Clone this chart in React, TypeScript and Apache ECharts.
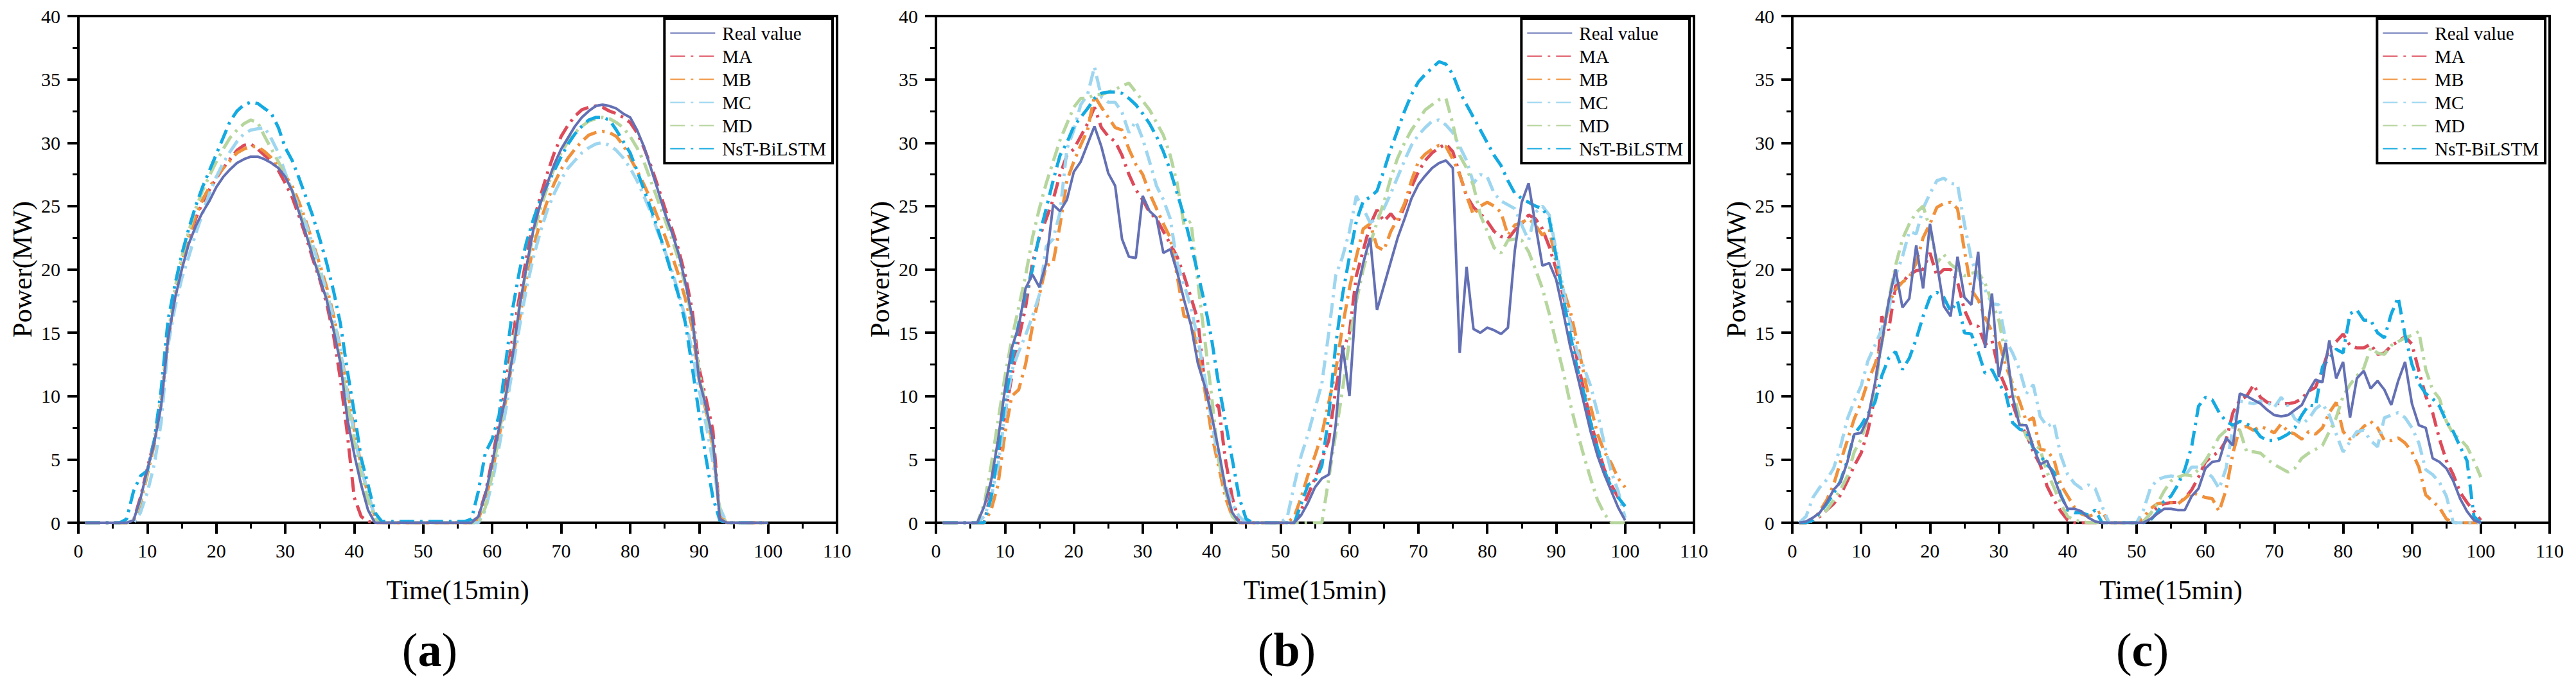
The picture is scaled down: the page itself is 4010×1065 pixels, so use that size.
import React, { useEffect, useRef } from "react";
import * as echarts from "echarts";

// series names and colours, same in all three panels
const names = ["Real value", "MA", "MB", "MC", "MD", "NsT-BiLSTM"];
const colors = ["#6470B4", "#DC4B5A", "#F0913C", "#9ED6F0", "#B6D69E", "#14AAE1"];

// values at x = 1..100 (Time, 15 min steps)
// panel (a)
const aReal = [
  0, 0, 0, 0, 0, 0, 0, 0.2, 1.9, 4.2,
  6.3, 9.2, 14.5, 17.7, 20.0, 22.0, 23.4, 24.5, 25.4, 26.5,
  27.3, 27.9, 28.4, 28.7, 28.9, 28.9, 28.7, 28.4, 28.0, 27.3,
  26.2, 24.5, 22.8, 21.0, 19.3, 17.6, 15.2, 12.6, 8.2, 5.4,
  3.0, 1.0, 0, 0, 0, 0, 0, 0, 0, 0,
  0, 0, 0, 0, 0, 0, 0, 0.5, 2.2, 4.7,
  7.5, 10.1, 13.3, 17.2, 20.3, 23.2, 25.2, 26.8, 28.3, 29.5,
  30.4, 31.3, 32.0, 32.5, 32.9, 33.0, 32.9, 32.7, 32.3, 32.0,
  31.0, 29.7, 28.0, 26.3, 24.5, 23.0, 21.3, 19.0, 16.2, 11.3,
  9.2, 6.5, 0.3, 0, 0, 0, 0, 0, 0, 0,
];
const aMA = [
  0, 0, 0, 0, 0, 0, 0, 0.2, 2.0, 4.3,
  6.5, 9.5, 14.6, 17.8, 20.3, 22.5, 24.0, 25.3, 26.3, 27.2,
  28.0, 28.7, 29.4, 29.8, 29.9, 29.5, 29.0, 28.6, 27.8, 26.8,
  25.7, 24.2, 22.6, 20.8, 19.2, 17.3, 14.8, 11.3, 7.0, 2.0,
  0.5, 0.1, 0, 0, 0, 0, 0, 0, 0, 0,
  0, 0, 0, 0, 0, 0, 0, 0.5, 2.3, 5.0,
  8.0, 11.0, 14.8, 18.0, 21.0, 23.8, 25.8, 27.6, 29.2, 30.5,
  31.4, 32.1, 32.6, 32.8, 32.9, 32.8, 32.5, 32.3, 32.0, 31.6,
  30.8, 29.6, 28.2, 26.6, 24.9, 23.3, 21.6, 19.5, 16.8, 12.2,
  9.8, 7.3, 0.5, 0, 0, 0, 0, 0, 0, 0,
];
const aMB = [
  0, 0, 0, 0, 0, 0, 0, 0.1, 1.5, 3.8,
  6.2, 9.5, 14.3, 17.8, 20.5, 22.6, 24.2, 25.5, 26.5, 27.3,
  28.0, 28.6, 29.2, 29.5, 29.7, 29.7, 29.3, 28.8, 28.1, 27.4,
  26.6, 25.3, 23.8, 22.1, 20.4, 18.6, 16.4, 13.7, 10.5, 7.3,
  4.5, 2.2, 0.5, 0, 0, 0, 0, 0, 0, 0,
  0, 0, 0, 0, 0, 0, 0, 0.3, 1.8, 4.0,
  6.8, 9.8, 13.0, 16.2, 19.3, 21.8, 23.8, 25.4, 26.8, 27.9,
  28.8, 29.5, 30.1, 30.6, 30.8, 30.9, 30.8, 30.5, 29.8, 28.8,
  27.8, 26.7, 25.5, 24.1, 22.7, 21.2, 19.6, 17.7, 15.4, 11.3,
  8.8, 6.0, 0.5, 0, 0, 0, 0, 0, 0, 0,
];
const aMC = [
  0, 0, 0, 0, 0, 0, 0, 0, 0.8, 2.4,
  4.6, 7.9, 14.0, 17.0, 19.3, 21.0, 22.8, 24.4, 26.0, 27.3,
  28.4, 29.3, 30.1, 30.7, 31.0, 31.1, 31.2, 30.3, 29.2, 27.6,
  26.2, 24.9, 23.6, 21.9, 20.1, 18.2, 16.2, 13.6, 10.2, 6.9,
  4.3, 2.4, 0.4, 0, 0, 0, 0, 0, 0, 0,
  0, 0, 0, 0, 0, 0, 0, 0, 1.0, 3.2,
  6.0, 9.0, 12.3, 15.6, 18.6, 21.0, 23.0, 24.7, 26.0, 27.1,
  28.0, 28.6, 29.2, 29.6, 29.9, 30.0, 29.8, 29.4, 28.8, 28.0,
  27.0, 25.8, 24.5, 23.0, 21.5, 20.0, 18.2, 16.2, 13.5, 10.5,
  7.8, 4.8, 1.2, 0, 0, 0, 0, 0, 0, 0,
];
const aMD = [
  0, 0, 0, 0, 0, 0, 0, 0.2, 1.7, 4.0,
  6.5, 10.0, 14.8, 18.5, 21.0, 23.0, 24.8, 26.2, 27.4, 28.5,
  29.5, 30.4, 31.0, 31.5, 31.8, 31.6, 30.5, 29.5, 28.5, 27.4,
  26.2, 24.7, 23.0, 21.2, 19.5, 17.7, 15.4, 12.8, 9.5, 6.3,
  3.8, 1.8, 0.3, 0, 0, 0, 0, 0, 0, 0,
  0, 0, 0, 0, 0, 0, 0, 0, 1.2, 3.8,
  7.0, 10.2, 13.8, 17.2, 20.2, 22.8, 24.8, 26.5, 28.0, 29.2,
  30.1, 30.8, 31.3, 31.7, 31.9, 32.0, 31.9, 31.6, 31.2, 30.5,
  29.6, 28.5, 27.0, 25.5, 24.0, 22.5, 20.8, 18.7, 16.0, 12.0,
  9.0, 6.0, 0.8, 0, 0, 0, 0, 0, 0, 0,
];
const aNsT = [
  0, 0, 0, 0, 0, 0, 0.3, 2.5, 3.7, 4.1,
  6.5, 10.5, 16.0, 18.8, 21.2, 23.2, 25.0, 26.5, 27.8, 29.1,
  30.4, 31.7, 32.5, 33.0, 33.2, 33.1, 32.7, 32.3, 31.2, 29.6,
  28.6, 27.2, 25.7, 24.2, 22.4, 20.5, 18.3, 15.7, 12.0, 8.7,
  5.1, 3.0, 0.8, 0.1, 0.1, 0.1, 0.1, 0.1, 0.1, 0.1,
  0.1, 0.1, 0.1, 0.1, 0.1, 0.1, 0.3, 2.5, 5.5, 6.6,
  8.5, 12.8, 17.0, 20.0, 22.2, 24.0, 25.5, 26.7, 27.8, 28.9,
  29.9, 30.7, 31.3, 31.8, 32.0, 32.0, 31.8, 31.0, 30.1, 29.2,
  27.8, 26.3, 24.8, 23.2, 21.5, 19.7, 18.0, 15.8, 12.3, 8.6,
  5.1, 2.0, 0.2, 0, 0, 0, 0, 0, 0, 0,
];

// panel (b)
const bReal = [
  0, 0, 0, 0, 0, 0, 1.3, 3.3, 6.5, 10.5,
  13.8, 15.5, 18.5, 19.6, 18.6, 20.5, 25.1, 24.6, 25.5, 27.7,
  28.5, 29.9, 31.3, 29.7, 27.6, 26.6, 22.4, 21.0, 20.9, 25.8,
  24.6, 24.1, 21.3, 21.6, 19.8, 17.6, 15.6, 12.6, 10.8, 8.5,
  5.8, 2.8, 0.8, 0, 0, 0, 0, 0, 0, 0,
  0, 0, 0.6, 1.6, 2.8, 3.5, 3.8, 7.7, 14.0, 10.0,
  18.0, 20.5, 22.5, 16.8, 18.7, 20.6, 22.5, 24.0, 25.6, 26.7,
  27.4, 28.0, 28.4, 28.6, 28.0, 13.4, 20.2, 15.3, 15.0, 15.4,
  15.2, 14.9, 15.4, 21.5, 25.3, 26.8, 23.5, 20.3, 20.5, 19.2,
  16.7, 14.0, 11.8, 9.5, 7.2, 5.3, 3.8, 2.5, 1.2, 0.2,
];
const bMA = [
  0, 0, 0, 0, 0, 0, 0, 2.5, 5.0, 8.5,
  11.5, 14.5, 17.0, 20.5, 22.5, 24.0, 25.5, 27.5, 29.0, 29.5,
  30.5, 31.5, 32.8, 31.2, 30.5, 30.1, 29.0, 27.5, 26.3, 25.5,
  24.5, 24.0, 23.0, 22.0, 21.0, 19.5, 17.8, 16.0, 11.0, 9.0,
  9.3, 5.0, 2.0, 0, 0, 0, 0, 0, 0, 0,
  0, 0, 1.0, 2.2, 3.5, 5.0, 6.5, 10.5, 13.5, 15.0,
  19.5, 21.5, 23.5, 24.7, 23.8, 24.4, 23.7, 25.0, 26.5, 27.7,
  28.6, 29.2, 29.6, 29.9, 29.3, 27.5, 25.8, 24.9, 24.4, 23.8,
  23.0, 22.6, 22.4, 23.1, 23.6, 24.3, 24.0, 23.2, 21.8, 20.0,
  18.0, 16.0, 13.0, 10.5, 8.0, 6.0, 4.2, 3.0, 2.0, 1.2,
];
const bMB = [
  0, 0, 0, 0, 0, 0, 0, 1.0, 3.0, 7.0,
  10.0, 10.5, 12.5, 15.5, 18.0, 20.3, 20.5, 23.5, 27.0, 28.5,
  29.8, 31.0, 33.7, 32.8, 32.0, 31.2, 31.0, 29.5, 28.3, 27.5,
  26.0, 24.8, 23.6, 22.5, 19.5, 16.3, 16.2, 13.5, 10.5, 7.0,
  4.5, 2.0, 0.5, 0, 0, 0, 0, 0, 0, 0,
  0, 0.5, 2.0, 3.8, 5.3, 7.0, 9.5, 12.0, 15.5, 18.5,
  21.0, 23.2, 23.6, 21.8, 21.5, 23.0, 24.0, 25.2, 27.0, 28.5,
  29.1, 29.5, 29.8, 29.7, 28.7, 27.5, 25.8, 24.3, 25.0, 25.3,
  25.0, 24.5, 22.7, 23.5, 23.7, 24.0, 23.5, 22.7, 23.2, 20.5,
  18.5, 16.8, 14.4, 11.8, 9.2, 7.0, 5.6, 4.7, 3.5, 2.8,
];
const bMC = [
  0, 0, 0, 0, 0, 0, 0.5, 2.0, 4.5, 8.5,
  12.0, 13.5, 14.8, 16.3, 18.0, 21.8, 22.4, 24.5, 29.5, 31.0,
  33.0, 33.8, 36.0, 33.6, 33.2, 33.2, 32.4, 30.8, 31.7, 30.3,
  28.5, 26.6, 25.5, 24.0, 20.5, 18.8, 17.0, 14.5, 11.5, 8.0,
  5.0, 3.0, 1.5, 0.5, 0, 0, 0, 0, 0, 0,
  0.5, 3.0, 5.3, 7.0, 9.0, 11.0, 15.0, 19.5, 21.0, 23.0,
  25.8, 24.8, 23.7, 24.0, 24.8, 26.0, 27.3, 28.6, 29.8, 30.6,
  31.2, 31.7, 31.8, 31.4, 30.8, 29.7, 28.6, 26.8, 27.5, 27.3,
  26.0, 25.4, 25.1, 24.8, 23.5, 22.3, 24.5, 25.0, 24.3, 21.5,
  18.5, 15.8, 13.6, 12.3, 10.8, 8.7, 6.2, 4.0, 2.5, 0.4,
];
const bMD = [
  0, 0, 0, 0, 0, 0, 1.5, 4.5, 8.0, 11.5,
  14.5, 17.0, 19.5, 22.5, 24.8, 26.8, 28.5, 30.2, 31.5, 32.8,
  33.5, 33.5, 33.8, 33.8, 34.0, 34.2, 34.5, 34.7, 34.0, 33.3,
  32.6, 31.6, 30.6, 29.0, 26.8, 23.5, 23.8, 19.0, 14.5, 10.0,
  5.0, 2.5, 0.5, 0, 0, 0, 0, 0, 0, 0,
  0, 0, 0, 0, 0, 0, 3.5, 7.0, 10.5, 14.4,
  17.5, 20.0, 22.0, 23.7, 25.3, 27.2, 28.8, 30.0, 31.0, 31.8,
  32.6, 33.0, 33.4, 33.5, 31.5, 29.0, 28.0, 26.6, 24.3, 23.0,
  21.7, 21.3, 22.3, 22.4, 22.3, 21.4, 20.0, 18.5, 16.5, 14.2,
  12.0, 9.5, 7.3, 5.3, 3.5, 1.8, 0.7, 0, 0, 0,
];
const bNsT = [
  0, 0, 0, 0, 0, 0, 0, 2.0, 5.5, 9.5,
  12.7, 15.7, 18.0, 20.0, 22.7, 24.8, 27.0, 29.0, 30.0, 31.3,
  32.0, 32.7, 33.5, 33.9, 34.0, 34.0, 33.9, 33.5, 33.0, 32.3,
  31.5, 30.5, 29.3, 27.8, 26.0, 24.2, 22.0, 19.7, 17.3, 14.5,
  11.0, 8.0, 5.0, 2.0, 0.3, 0, 0, 0, 0, 0,
  0, 0, 1.5, 3.0, 3.3, 4.5, 8.5, 14.0, 18.0, 21.0,
  23.8, 25.4, 25.7, 26.2, 27.8, 29.5, 31.0, 32.5, 33.8, 34.8,
  35.4, 35.9, 36.4, 36.2, 35.4, 34.0, 33.0, 32.0, 31.0, 30.0,
  29.0, 28.2, 27.0, 26.0, 25.6, 25.3, 25.0, 24.8, 24.0, 21.0,
  17.8, 15.0, 12.3, 10.3, 7.9, 5.9, 4.1, 2.8, 2.0, 1.3,
];

// panel (c)
const cReal = [
  0, 0.1, 0.4, 0.8, 1.6, 2.6, 3.2, 4.8, 7.0, 7.1,
  8.3, 11.0, 14.2, 17.5, 20.0, 17.0, 17.7, 21.9, 18.5, 23.6,
  20.5, 17.1, 16.3, 21.0, 17.8, 17.2, 21.4, 13.8, 18.1, 11.5,
  14.2, 10.0, 7.7, 7.7, 6.0, 4.6, 4.9, 3.6, 2.1, 1.1,
  1.1, 0.9, 0.4, 0.1, 0, 0, 0, 0, 0, 0,
  0, 0.3, 0.7, 1.1, 1.1, 1.0, 1.0, 2.1, 2.7, 4.3,
  4.8, 4.9, 6.7, 6.1, 10.2, 10.0, 9.7, 9.4, 8.9, 8.5,
  8.4, 8.5, 8.9, 9.3, 10.4, 11.3, 11.1, 14.4, 11.4, 12.7,
  8.3, 11.4, 12.0, 10.6, 11.2, 10.5, 9.3, 11.2, 12.7, 9.4,
  7.7, 7.5, 5.1, 4.8, 4.3, 3.3, 1.9, 0.9, 0.2, 0,
];
const cMA = [
  0, 0, 0.2, 0.5, 1.0, 1.5, 2.2, 3.3, 4.5, 5.5,
  7.3, 10.0, 16.3, 15.2, 18.7, 19.0, 19.6, 19.9, 20.0, 21.3,
  19.5, 20.0, 20.0, 19.0, 16.8, 15.6, 15.5, 14.1, 14.4, 12.0,
  10.7, 9.4, 7.8, 7.0, 5.6, 4.6, 2.9, 1.8, 0.9, 0.2,
  0, 0, 0, 0, 0, 0, 0, 0, 0, 0,
  0.1, 0.7, 1.2, 1.5, 1.6, 1.6, 1.9, 2.6, 3.6, 4.8,
  5.3, 5.6, 6.5, 8.7, 9.7, 10.0, 10.9, 9.9, 9.5, 9.4,
  9.4, 9.4, 9.5, 9.8, 10.4, 10.7, 12.1, 13.8, 14.3, 14.9,
  14.0, 13.8, 13.8, 14.1, 13.3, 13.4, 14.0, 14.3, 14.7, 14.1,
  12.0, 10.0, 8.7, 6.6, 4.9, 3.8, 2.4, 1.6, 0.9, 0.2,
];
const cMB = [
  0, 0, 0.2, 0.9, 1.8, 3.0, 4.8, 6.5, 8.2, 9.5,
  11.2, 12.5, 14.2, 17.3, 18.4, 19.0, 19.4, 20.5, 22.5, 23.6,
  24.9, 25.2, 25.3, 24.8, 21.5, 18.4, 17.6, 16.2, 15.1, 14.3,
  12.4, 11.0, 9.6, 8.0, 8.3, 5.8, 5.7, 5.0, 3.0, 2.1,
  1.2, 0.7, 0.5, 0.7, 0.9, 0, 0, 0, 0, 0,
  0.4, 1.1, 1.5, 1.6, 1.6, 1.5, 1.9, 2.4, 2.2, 2.0,
  1.9, 0.9, 2.6, 5.5, 7.5, 7.6, 7.3, 7.6, 7.4, 7.1,
  7.8, 7.2, 7.0, 6.6, 7.2, 7.0, 7.5, 8.7, 9.5, 7.2,
  6.6, 7.0, 7.6, 8.0, 7.5, 6.5, 6.5, 6.7, 6.3, 5.6,
  4.4, 2.2, 1.7, 1.2, 0.3, 0, 0, 0, 0, 0,
];
const cMC = [
  0, 0.5, 2.0, 2.8, 3.4, 4.3, 6.0, 8.2, 9.6, 10.8,
  12.8, 14.0, 15.3, 16.8, 19.5, 21.0, 23.0, 22.8, 24.8, 26.0,
  27.0, 27.2, 26.8, 26.7, 23.6, 20.8, 19.4, 18.4, 17.3, 17.2,
  14.4, 13.4, 12.1, 10.2, 10.9, 8.4, 7.6, 7.9, 5.3, 3.8,
  3.1, 2.7, 3.0, 2.7, 1.3, 0, 0, 0, 0, 0,
  1.0, 2.7, 3.4, 3.6, 3.7, 3.6, 3.7, 4.4, 4.4, 4.1,
  3.6, 2.7, 4.3, 7.5, 9.6, 9.5, 9.4, 9.6, 9.5, 9.1,
  9.9, 9.2, 8.2, 7.8, 8.2, 9.0, 9.4, 8.5, 7.0, 5.6,
  6.4, 7.2, 7.3, 6.5, 6.0, 8.3, 8.5, 8.7, 8.3, 7.5,
  6.3, 4.2, 3.8, 3.2, 2.1, 0, 0, 0, 0, 0,
];
const cMD = [
  0, 0, 0.2, 0.6, 1.0, 1.8, 2.6, 3.7, 5.6, 6.6,
  8.3, 10.5, 14.2, 17.6, 20.3, 22.4, 23.6, 24.5, 25.0, 23.2,
  20.5, 21.2, 20.4, 20.0, 19.5, 19.7, 19.8, 18.9, 17.4, 16.0,
  13.2, 10.5, 8.3, 6.8, 6.3, 5.8, 4.0, 2.8, 1.5, 0.5,
  0.2, 0.1, 0, 0, 0, 0, 0, 0, 0, 0,
  0.1, 0.7, 1.5, 2.5, 3.3, 3.6, 3.8, 3.7, 4.2, 4.9,
  5.8, 6.8, 7.3, 7.6, 7.3, 5.6, 5.6, 5.5, 5.0, 4.6,
  4.3, 4.0, 4.3, 5.1, 5.5, 5.8, 6.1, 7.2, 8.3, 10.0,
  10.9, 11.6, 12.2, 13.8, 13.4, 13.3, 14.0, 14.3, 14.6, 14.8,
  15.1, 12.1, 10.5, 9.8, 8.0, 7.0, 6.6, 6.0, 4.9, 3.6,
];
const cNsT = [
  0, 0, 0.2, 0.8, 1.5, 2.3, 3.3, 4.9, 7.0, 7.7,
  8.6, 9.5, 11.6, 13.0, 13.5, 12.1, 13.0, 14.5, 16.3, 17.8,
  18.2, 17.8, 16.7, 17.5, 15.0, 14.9, 13.5, 11.8, 12.1, 11.0,
  10.2, 7.9, 7.4, 7.2, 5.9, 5.3, 4.6, 4.0, 2.2, 1.0,
  0.8, 0.8, 0.6, 1.0, 0, 0, 0, 0, 0, 0,
  0, 0.2, 0.8, 1.7, 2.1, 3.0, 4.2, 6.0, 9.2, 9.9,
  9.7, 8.7, 8.0, 7.7, 8.0, 7.8, 7.5, 6.8, 6.5, 6.5,
  6.7, 7.0, 7.5, 8.5, 9.3, 9.2, 12.3, 13.0, 13.7, 13.4,
  16.5, 16.8, 16.0, 16.0, 15.0, 14.6, 16.5, 17.8, 14.8, 12.5,
  11.0, 10.2, 9.8, 9.2, 8.0, 7.2, 6.0, 4.9, 0.5, 0,
];

const panelData = [
  [aReal, aMA, aMB, aMC, aMD, aNsT],
  [bReal, bMA, bMB, bMC, bMD, bNsT],
  [cReal, cMA, cMB, cMC, cMD, cNsT],
];
const panelLabels = ["a", "b", "c"];

// layout of the three panels (pixels)
const W = 4010;
const H = 1065;
const layout = [
  { left: 122, width: 1181, labelX: 669 },
  { left: 1457, width: 1180, labelX: 2003 },
  { left: 2790, width: 1179, labelX: 3335 },
];
const TOP = 25;
const PLOT_H = 789;
const FONT = "Liberation Serif";
const DASH_DOT = [23, 9, 4, 9];

const App: React.FC = () => {
  const chartRef = useRef<HTMLDivElement>(null);

  useEffect(() => {
    document.body.style.margin = "0";
    if (!chartRef.current) return;
    const chart = echarts.init(chartRef.current, null, { renderer: "svg" });

    const axisCommon = {
      axisLine: { show: true, onZero: false, lineStyle: { color: "#000", width: 4 } },
      axisTick: { show: true, length: 17, lineStyle: { color: "#000", width: 4 } },
      minorTick: { show: true, splitNumber: 2, length: 9, lineStyle: { color: "#000", width: 3 } },
      axisLabel: { fontFamily: FONT, fontSize: 30, color: "#000", margin: 28 },
      splitLine: { show: false },
      nameLocation: "middle",
      nameTextStyle: { fontFamily: FONT, fontSize: 42, color: "#000" },
    };

    const series: any[] = [];
    panelData.forEach((group, p) => {
      group.forEach((values, k) => {
        series.push({
          name: names[k],
          type: "line",
          xAxisIndex: p,
          yAxisIndex: p,
          symbol: "none",
          z: k === 0 ? 4 : 2,
          data: values.map((v, i) => [i + 1, v]),
          lineStyle: {
            color: colors[k],
            width: k === 0 ? 4 : 5,
            type: k === 0 ? "solid" : DASH_DOT,
            cap: "butt",
          },
          itemStyle: { color: colors[k] },
        });
      });
    });

    chart.setOption({
      animation: false,
      backgroundColor: "#fff",
      textStyle: { fontFamily: FONT },
      grid: layout.map((l) => ({
        left: l.left,
        top: TOP,
        width: l.width,
        height: PLOT_H,
        show: true,
        borderColor: "#000",
        borderWidth: 4,
        backgroundColor: "transparent",
      })),
      xAxis: layout.map((_, i) => ({
        ...axisCommon,
        type: "value",
        gridIndex: i,
        min: 0,
        max: 110,
        interval: 10,
        name: "Time(15min)",
        nameGap: 84,
      })),
      yAxis: layout.map((_, i) => ({
        ...axisCommon,
        type: "value",
        gridIndex: i,
        min: 0,
        max: 40,
        interval: 5,
        name: "Power(MW)",
        nameGap: 66,
      })),
      legend: layout.map((l) => ({
        orient: "vertical",
        right: W - (l.left + l.width - 7),
        top: TOP + 4,
        data: names,
        backgroundColor: "#fff",
        borderColor: "#000",
        borderWidth: 4,
        borderRadius: 0,
        padding: [8, 10, 8, 8],
        itemGap: 7,
        itemWidth: 70,
        itemHeight: 14,
        selectedMode: false,
        itemStyle: { opacity: 0 },
        textStyle: { fontFamily: FONT, fontSize: 29, color: "#000", padding: [0, 0, 0, 6] },
      })),
      graphic: layout.map((l, i) => ({
        type: "text",
        x: l.labelX,
        y: 1012,
        style: {
          text: "{p|(}{b|" + panelLabels[i] + "}{p|)}",
          align: "center",
          verticalAlign: "middle",
          rich: {
            p: { fontFamily: FONT, fontSize: 74, fill: "#000" },
            b: { fontFamily: FONT, fontSize: 74, fontWeight: "bold", fill: "#000" },
          },
        },
      })),
      series,
    });

    return () => {
      chart.dispose();
    };
  }, []);

  return <div ref={chartRef} style={{ width: W, height: H }} />;
};

export default App;
